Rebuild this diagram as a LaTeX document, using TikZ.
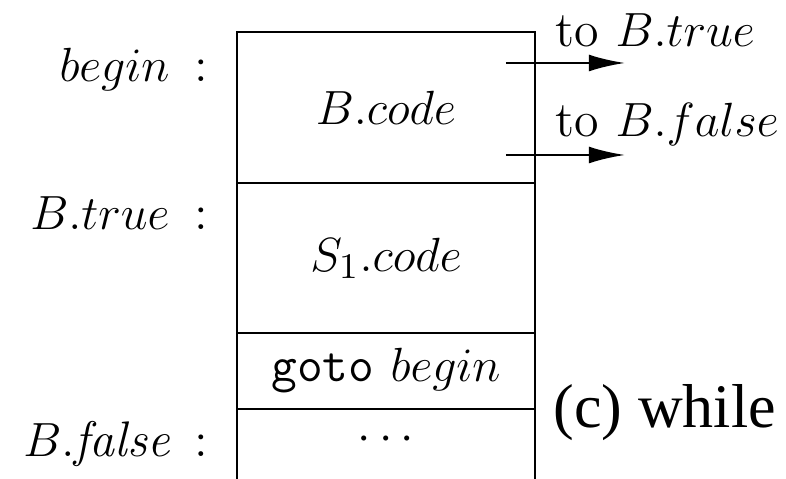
\documentclass[tikz,border=0pt]{standalone}
\usepackage{fontspec}
\usepackage{tikz}
\usetikzlibrary{arrows.meta, positioning}
\setmainfont{Latin Modern Roman}
\newfontfamily\capserif{Liberation Serif}

\begin{document}
\begin{tikzpicture}[
    x=0.25pt, y=-0.25pt,
    every node/.style={font=\fontsize{12.5}{15}\selectfont, inner sep=0pt},
    lbl/.style={anchor=base east},
    jumplbl/.style={anchor=base west},
    jump/.style={-{Latex[length=9pt, width=4.2pt]}, line width=0.6pt},
    frame/.style={line width=0.6pt}
]
\useasboundingbox (0,0) rectangle (786,479);

% code layout box (open at the bottom)
\coordinate (top-l) at (237,32);
\coordinate (top-r) at (535,32);
\coordinate (bot-l) at (237,479);
\coordinate (bot-r) at (535,479);
\draw[frame] (bot-l) -- (top-l) -- (top-r) -- (bot-r);
\draw[frame] (237,183) -- (535,183);
\draw[frame] (237,333) -- (535,333);
\draw[frame] (237,409) -- (535,409);

% cell contents
\node (bcode) at (386,108) {$B.code$};
\node (s1code) at (386,258) {$S_1.code$};
\node (gotobegin) at (386,371) {\texttt{goto} $begin$};
\node (rest) at (386,440) {$\cdots$};

% labels on the left
\node[lbl] (lbl-begin) at (209,82) {$begin$\enspace:};
\node[lbl] (lbl-true) at (209,230) {$B.true$\enspace:};
\node[lbl] (lbl-false) at (209,457) {$B.\mathit{false}$\enspace:};

% jumps out of B.code
\coordinate (jt-from) at (506,63);
\coordinate (jt-to) at (625,63);
\coordinate (jf-from) at (506,155);
\coordinate (jf-to) at (625,155);
\draw[jump] (jt-from) -- (jt-to);
\draw[jump] (jf-from) -- (jf-to);
\node[jumplbl] (to-true) at (555,47) {to $B.true$};
\node[jumplbl] (to-false) at (555,137) {to $B.false$};

% caption
\node[jumplbl, font=\capserif\fontsize{15.5}{18}\selectfont] (caption) at (553,428) {(c) while};

\end{tikzpicture}
\end{document}
